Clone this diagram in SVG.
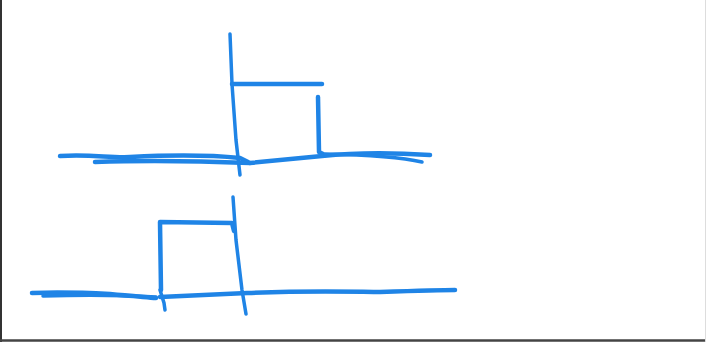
<svg xmlns="http://www.w3.org/2000/svg" width="706" height="342" viewBox="0 0 706 342">
<style>
.s{fill:none;stroke:#1f84e6;stroke-width:4.5;stroke-linecap:round;stroke-linejoin:round}
.t{fill:none;stroke:#1f84e6;stroke-width:3.5;stroke-linecap:round}
</style>
<rect width="706" height="342" fill="#ffffff"/>
<line x1="1" y1="0" x2="1" y2="342" stroke="#333" stroke-width="2"/>
<line x1="0" y1="340.5" x2="706" y2="340.5" stroke="#444" stroke-width="2.5"/>
<line x1="705.5" y1="0" x2="705.5" y2="342" stroke="#ddd" stroke-width="1"/>
<g id="top">
<path class="t" d="M230,34 L232,84 L236,140 L240,175"/>
<path class="s" d="M232,84 L322,84"/>
<path class="s" d="M318,97 L319,152 L323,154"/>
<path class="s" d="M60,156 C90,154 110,158 130,157 C170,155 210,155 240,158 L248,162"/>
<path class="s" d="M95,162 C150,160 200,161 250,163"/>
<path class="s" d="M250,163 L322,156 C360,152 400,153 430,155"/>
<path class="t" d="M325,154 C370,155 400,157 422,162"/>
</g>
<g id="bottom">
<path class="s" d="M161,290 L160,222 L232,223 L234,231"/>
<path class="t" d="M160,290 L164,303 L165,310"/>
<path class="t" d="M233,197 L236,240 L242,290 L246,314"/>
<path class="s" d="M32,293 C60,292 90,293 110,294 C130,296 145,297 156,298"/>
<path class="t" d="M43,296 C80,295 120,295 156,297"/>
<path class="s" d="M160,297 L247,293 C320,290 360,292 380,292 C410,291 440,290 455,290"/>
</g>
</svg>
